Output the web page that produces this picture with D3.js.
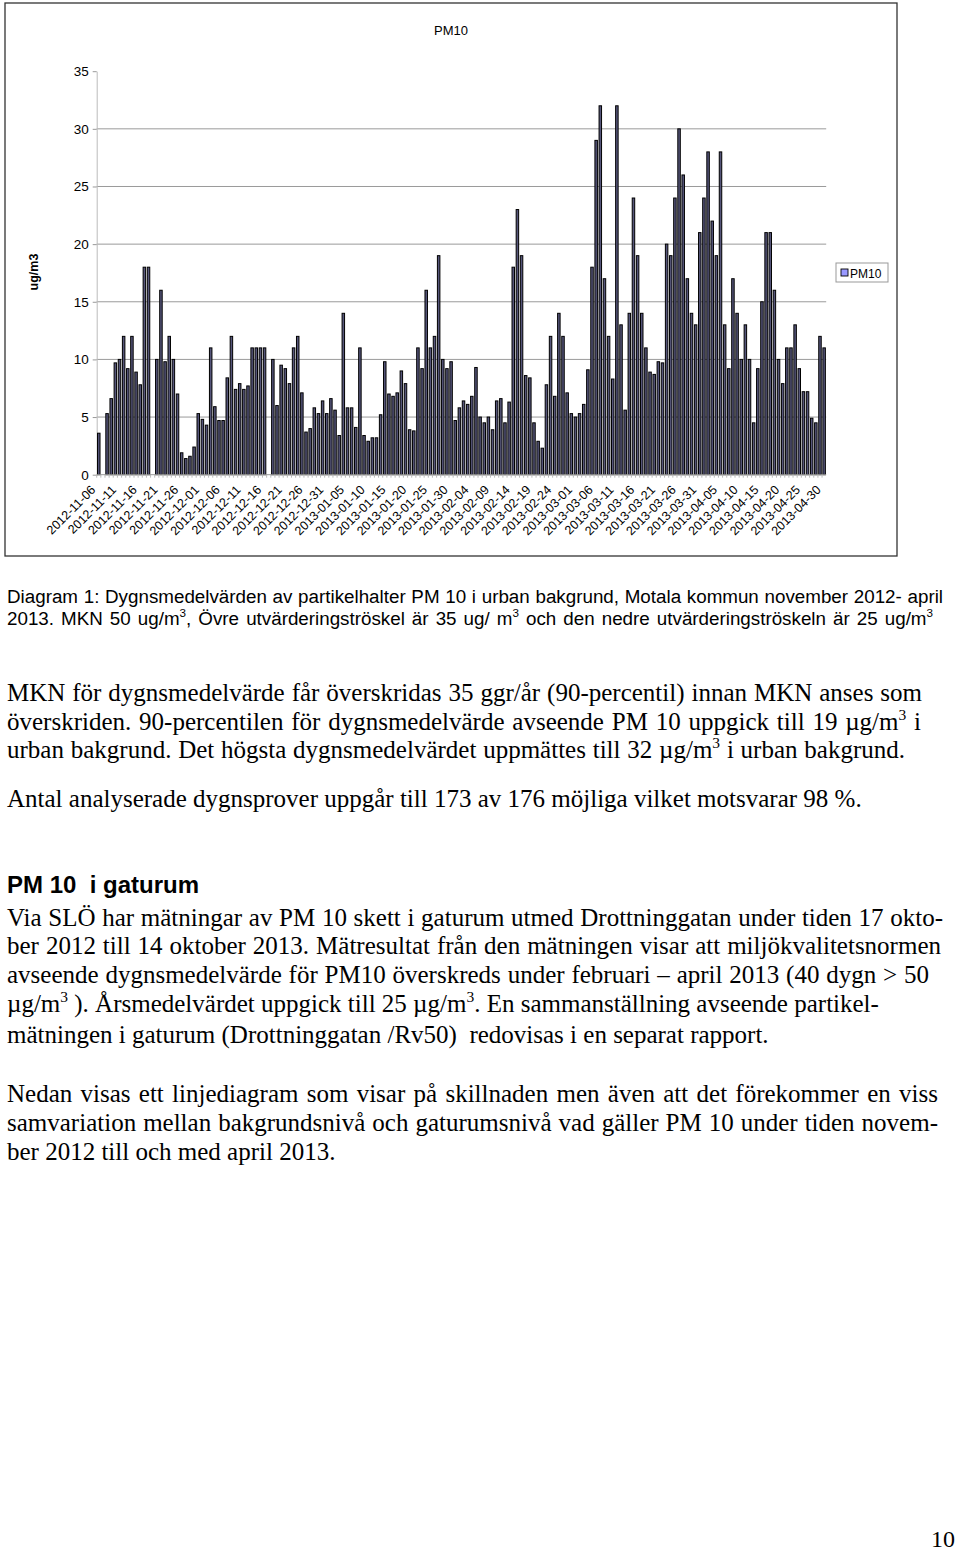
<!DOCTYPE html>
<html>
<head>
<meta charset="utf-8">
<script src="https://cdn.jsdelivr.net/npm/d3@7"></script>
<style>
body { margin: 0; background: #fff; }
svg { display: block; }
text { white-space: pre; }
</style>
</head>
<body>
<svg id="page" width="960" height="1551"></svg>
<script>
// 1. Data (daily means PM10, ug/m3, null = no sample)

var firstDay = "2012-11-06";
var lastDay = "2013-04-30";

var tickLabels = [
    "2012-11-06", "2012-11-11", "2012-11-16", "2012-11-21", "2012-11-26",
    "2012-12-01", "2012-12-06", "2012-12-11", "2012-12-16", "2012-12-21",
    "2012-12-26", "2012-12-31", "2013-01-05", "2013-01-10", "2013-01-15",
    "2013-01-20", "2013-01-25", "2013-01-30", "2013-02-04", "2013-02-09",
    "2013-02-14", "2013-02-19", "2013-02-24", "2013-03-01", "2013-03-06",
    "2013-03-11", "2013-03-16", "2013-03-21", "2013-03-26", "2013-03-31",
    "2013-04-05", "2013-04-10", "2013-04-15", "2013-04-20", "2013-04-25",
    "2013-04-30"
];

var pm10 = [
    3.6, null, 5.3, 6.6, 9.7, 10, 12, 9.2, 12, 8.9,
    7.8, 18, 18, null, 10, 16, 9.8, 12, 10, 7,
    1.9, 1.4, 1.6, 2.4, 5.3, 4.8, 4.3, 11, 5.9, 4.7,
    4.7, 8.4, 12, 7.4, 7.9, 7.4, 7.7, 11, 11, 11,
    11, null, 10, 6, 9.5, 9.2, 7.9, 11, 12, 7.1,
    3.7, 4, 5.8, 5.3, 6.4, 5.3, 6.6, 5.6, 3.4, 14,
    5.8, 5.8, 4.1, 11, 3.4, 2.9, 3.2, 3.2, 5.2, 9.8,
    7, 6.8, 7.1, 9, 7.9, 3.9, 3.8, 11, 9.2, 16,
    11, 12, 19, 10, 9.2, 9.8, 4.7, 5.8, 6.4, 6.1,
    6.8, 9.3, 5, 4.5, 5, 3.9, 6.4, 6.6, 4.5, 6.3,
    18, 23, 19, 8.6, 8.4, 4.5, 2.9, 2.3, 7.8, 12,
    6.8, 14, 12, 7.1, 5.3, 5, 5.3, 6.1, 9.1, 18,
    29, 32, 17, 12, 8.3, 32, 13, 5.6, 14, 24,
    19, 14, 11, 8.9, 8.7, 9.8, 9.7, 20, 19, 24,
    30, 26, 17, 14, 13, 21, 24, 28, 22, 19,
    28, 13, 9.2, 17, 14, 10, 13, 10, 4.5, 9.2,
    15, 21, 21, 16, 10, 7.9, 11, 11, 13, 9.2,
    7.2, 7.2, 4.9, 4.5, 12, 11
];

var yTicks = [0, 5, 10, 15, 20, 25, 30, 35];

var parseDay = d3.timeParse("%Y-%m-%d");
var formatDay = d3.timeFormat("%Y-%m-%d");
var days = d3.timeDay
    .range(parseDay(firstDay), d3.timeDay.offset(parseDay(lastDay), 1))
    .map(formatDay);

var data = days.map(function (d, i) { return { day: d, value: pm10[i] } });

// 2. Chart

var sans = "Arial, 'Liberation Sans', sans-serif";
var serif = "'Times New Roman', 'Liberation Serif', serif";

var svg = d3.select("#page");
var plot = { left: 96.7, right: 826.2, top: 71.2, bottom: 474.7 };

var x = d3.scaleBand()
    .domain(days)
    .range([plot.left, plot.right])
    .paddingInner(0.4)
    .paddingOuter(0.2);

var y = d3.scaleLinear()
    .domain([0, 35])
    .range([plot.bottom, plot.top]);

svg.append("rect")
    .attr("x", 5).attr("y", 3)
    .attr("width", 892).attr("height", 553)
    .attr("fill", "none")
    .attr("stroke", "#333")
    .attr("stroke-width", 1.3);

svg.append("text")
    .attr("x", 451).attr("y", 35)
    .attr("text-anchor", "middle")
    .style("font", "13px " + sans)
    .text("PM10");

// gridlines (no line at the top value)
svg.append("g")
    .selectAll("line")
    .data(yTicks.filter(function (t) { return t > 0 && t < 35 }))
    .enter()
    .append("line")
    .attr("x1", plot.left).attr("x2", plot.right)
    .attr("y1", function (d) { return y(d) })
    .attr("y2", function (d) { return y(d) })
    .attr("stroke", "#9a9a9a")
    .attr("stroke-width", 1);

var yAxis = svg.append("g")
    .attr("transform", "translate(" + plot.left + ",0)")
    .call(d3.axisLeft(y).tickValues(yTicks).tickSize(4).tickSizeOuter(0).tickPadding(4));

yAxis.select(".domain").attr("stroke", "#bbb");
yAxis.selectAll(".tick line").attr("stroke", "#999");
yAxis.selectAll(".tick text")
    .style("font", "13.5px " + sans)
    .attr("fill", "#000");

svg.append("text")
    .attr("transform", "translate(37.5,272) rotate(-90)")
    .attr("text-anchor", "middle")
    .style("font", "bold 12.5px " + sans)
    .text("ug/m3");

// bars
svg.append("g")
    .selectAll("rect")
    .data(data.filter(function (d) { return d.value != null }))
    .enter()
    .append("rect")
    .attr("x", function (d) { return x(d.day) })
    .attr("y", function (d) { return y(d.value) })
    .attr("width", x.bandwidth())
    .attr("height", function (d) { return y(0) - y(d.value) })
    .attr("fill", "#55557a")
    .attr("stroke", "#000")
    .attr("stroke-width", 1);

// category axis
svg.append("line")
    .attr("x1", plot.left).attr("x2", plot.right)
    .attr("y1", plot.bottom).attr("y2", plot.bottom)
    .attr("stroke", "#999");

var edge = x.step() * x.paddingOuter();

svg.append("g")
    .selectAll("line")
    .data(days)
    .enter()
    .append("line")
    .attr("x1", function (d) { return x(d) - edge })
    .attr("x2", function (d) { return x(d) - edge })
    .attr("y1", plot.bottom)
    .attr("y2", plot.bottom + 3)
    .attr("stroke", "#aaa")
    .attr("stroke-width", 0.8);

svg.append("g")
    .selectAll("text")
    .data(tickLabels)
    .enter()
    .append("text")
    .attr("transform", function (d) {
        var cx = x(d) + x.bandwidth() / 2 - 2.5;
        return "translate(" + cx + "," + (plot.bottom + 16) + ") rotate(-45)";
    })
    .attr("text-anchor", "end")
    .style("font", "12.5px " + sans)
    .text(function (d) { return d });

// legend
svg.append("rect")
    .attr("x", 836).attr("y", 263)
    .attr("width", 52).attr("height", 19)
    .attr("fill", "#fff")
    .attr("stroke", "#999");

svg.append("rect")
    .attr("x", 841).attr("y", 269)
    .attr("width", 7).attr("height", 7)
    .attr("fill", "#9999ff")
    .attr("stroke", "#000")
    .attr("stroke-width", 0.9);

svg.append("text")
    .attr("x", 850).attr("y", 277.5)
    .style("font", "12px " + sans)
    .text("PM10");

// 3. Text below the chart ("^" marks a superscript character)

var textLines = [
    { y: 603, font: "18.8px " + sans, end: 943, t: "Diagram 1: Dygnsmedelvärden av partikelhalter PM 10 i urban bakgrund, Motala kommun november 2012- april" },
    { y: 625, font: "18.8px " + sans, end: 933, t: "2013. MKN 50 ug/m^3, Övre utvärderingströskel är 35 ug/ m^3 och den nedre utvärderingströskeln är 25 ug/m^3" },
    { y: 701, font: "25px " + serif, end: 922, t: "MKN för dygnsmedelvärde får överskridas 35 ggr/år (90-percentil) innan MKN anses som" },
    { y: 730, font: "25px " + serif, end: 921, t: "överskriden. 90-percentilen för dygnsmedelvärde avseende PM 10 uppgick till 19 µg/m^3 i" },
    { y: 758, font: "25px " + serif, end: 905, t: "urban bakgrund. Det högsta dygnsmedelvärdet uppmättes till 32 µg/m^3 i urban bakgrund." },
    { y: 807, font: "25px " + serif, end: null, t: "Antal analyserade dygnsprover uppgår till 173 av 176 möjliga vilket motsvarar 98 %." },
    { y: 893, font: "bold 24px " + sans, end: null, t: "PM 10  i gaturum" },
    { y: 926, font: "25px " + serif, end: 943, t: "Via SLÖ har mätningar av PM 10 skett i gaturum utmed Drottninggatan under tiden 17 okto-" },
    { y: 954, font: "25px " + serif, end: 941, t: "ber 2012 till 14 oktober 2013. Mätresultat från den mätningen visar att miljökvalitetsnormen" },
    { y: 983, font: "25px " + serif, end: 929, t: "avseende dygnsmedelvärde för PM10 överskreds under februari – april 2013 (40 dygn > 50" },
    { y: 1012, font: "25px " + serif, end: null, t: "µg/m^3 ). Årsmedelvärdet uppgick till 25 µg/m^3. En sammanställning avseende partikel-" },
    { y: 1043, font: "25px " + serif, end: null, t: "mätningen i gaturum (Drottninggatan /Rv50)  redovisas i en separat rapport." },
    { y: 1102, font: "25px " + serif, end: 938, t: "Nedan visas ett linjediagram som visar på skillnaden men även att det förekommer en viss" },
    { y: 1131, font: "25px " + serif, end: 938, t: "samvariation mellan bakgrundsnivå och gaturumsnivå vad gäller PM 10 under tiden novem-" },
    { y: 1160, font: "25px " + serif, end: null, t: "ber 2012 till och med april 2013." }
];

textLines.forEach(function (line) {
    var size = parseFloat(line.font.match(/([\d.]+)px/)[1]);
    var node = svg.append("text")
        .attr("x", 7)
        .attr("y", line.y)
        .style("font", line.font);
    var parts = line.t.split(/\^(\S)/);
    parts.forEach(function (p, i) {
        if (p === "") return;
        if (i % 2 == 1) {
            node.append("tspan")
                .attr("dy", -size * 0.4)
                .style("font-size", (size * 0.62) + "px")
                .text(p);
        } else {
            node.append("tspan")
                .attr("dy", i > 0 ? size * 0.4 : 0)
                .text(p);
        }
    });
    if (line.end) {
        var spaces = (line.t.match(/ /g) || []).length;
        var natural = node.node().getComputedTextLength();
        node.style("word-spacing", ((line.end - 7 - natural) / spaces) + "px");
    }
});

svg.append("text")
    .attr("x", 955).attr("y", 1547)
    .attr("text-anchor", "end")
    .style("font", "24px " + serif)
    .text("10");
</script>
</body>
</html>
